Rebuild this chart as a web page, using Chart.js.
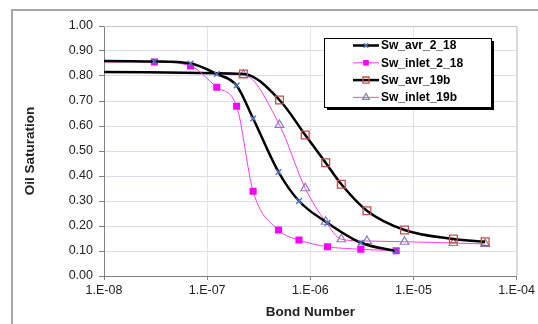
<!DOCTYPE html>
<html>
<head>
<meta charset="utf-8">
<script src="https://cdn.jsdelivr.net/npm/chart.js@4.4.0/dist/chart.umd.min.js"></script>
<style>
html, body { margin: 0; padding: 0; background: #fff; }
#wrap { width: 538px; height: 324px; position: relative; }
</style>
</head>
<body>
<div id="wrap"><canvas id="grafico" width="538" height="324"></canvas></div>
<script>
// dados (Bond Number x Oil Saturation)
const bondNumber218 = [5e-9, 3.08e-8, 6.9e-8, 1.24e-7, 1.93e-7, 2.79e-7, 4.92e-7, 7.77e-7, 1.47e-6, 3.09e-6, 6.8e-6];
const swAvr218 = [0.861, 0.858, 0.850, 0.808, 0.762, 0.630, 0.416, 0.300, 0.212, 0.133, 0.100];
const swInlet218 = [0.856, 0.856, 0.840, 0.755, 0.679, 0.339, 0.184, 0.144, 0.117, 0.107, 0.101];
const bondNumber19b = [5e-9, 2.25e-7, 5.03e-7, 8.93e-7, 1.41e-6, 2.0e-6, 3.54e-6, 8.2e-6, 2.44e-5, 4.96e-5];
const swAvr19b = [0.816, 0.808, 0.704, 0.564, 0.453, 0.367, 0.261, 0.184, 0.148, 0.137];
const swInlet19b = [0.816, 0.805, 0.604, 0.351, 0.217, 0.147, 0.140, 0.137, 0.132, 0.128];

const nomesSeries = ['Sw_avr_2_18', 'Sw_inlet_2_18', 'Sw_avr_19b', 'Sw_inlet_19b'];
const xTickValues = [1e-8, 1e-7, 1e-6, 1e-5, 1e-4];
const xTickLabels = ['1.E-08', '1.E-07', '1.E-06', '1.E-05', '1.E-04'];

function pontos(xs, ys) {
    return xs.map((x, i) => ({ x: x, y: ys[i] }));
}

const fonte = "'Liberation Sans', Arial, sans-serif";

// Moldura externa e borda da área do gráfico
const molduraPlugin = {
    id: 'moldura',
    beforeDraw(chart) {
        const ctx = chart.ctx;
        ctx.save();
        ctx.fillStyle = '#fff';
        ctx.fillRect(0, 0, chart.width, chart.height);
        ctx.strokeStyle = '#a6a6a6';
        ctx.lineWidth = 2;
        ctx.beginPath();
        ctx.moveTo(12, chart.height);
        ctx.lineTo(12, 10);
        ctx.lineTo(chart.width, 10);
        ctx.stroke();
        ctx.restore();
    },
    beforeDatasetsDraw(chart) {
        const a = chart.chartArea;
        const ctx = chart.ctx;
        ctx.save();
        ctx.strokeStyle = '#c4c4c4';
        ctx.lineWidth = 1;
        ctx.beginPath();
        ctx.moveTo(a.left, a.top + 0.5);
        ctx.lineTo(a.right + 0.5, a.top + 0.5);
        ctx.lineTo(a.right + 0.5, a.bottom);
        ctx.stroke();
        ctx.restore();
    }
};

// Legenda com sombra, no estilo do Excel
const legendaPlugin = {
    id: 'legenda',
    afterDraw(chart) {
        const ctx = chart.ctx;
        const x = 324, y = 38, w = 167, h = 69;
        ctx.save();
        ctx.fillStyle = '#000';
        ctx.fillRect(x + 3, y + 3, w, h);
        ctx.fillStyle = '#fff';
        ctx.fillRect(x, y, w, h);
        ctx.strokeStyle = '#000';
        ctx.lineWidth = 1;
        ctx.strokeRect(x + 0.5, y + 0.5, w, h);
        chart.data.datasets.forEach((ds, i) => {
            const ly = 45.5 + i * 17.3;
            ctx.strokeStyle = ds.borderColor;
            ctx.lineWidth = ds.borderWidth;
            ctx.beginPath();
            ctx.moveTo(353, ly);
            ctx.lineTo(379, ly);
            ctx.stroke();
            ctx.fillStyle = ds.pointBackgroundColor;
            ctx.strokeStyle = ds.pointBorderColor;
            ctx.lineWidth = ds.pointBorderWidth;
            if (Chart.helpers && Chart.helpers.drawPoint) {
                Chart.helpers.drawPoint(ctx, {
                    pointStyle: ds.pointStyle,
                    radius: ds.pointRadius * 0.8,
                    rotation: 0,
                    borderWidth: ds.pointBorderWidth
                }, 366, ly);
            }
            ctx.fillStyle = '#000';
            ctx.font = 'bold 12px ' + fonte;
            ctx.textAlign = 'left';
            ctx.textBaseline = 'middle';
            ctx.fillText(ds.label, 381, ly + 0.5);
        });
        ctx.restore();
    }
};

const ctx = document.getElementById('grafico').getContext('2d');
new Chart(ctx, {
    type: 'line',
    data: {
        datasets: [{
            label: nomesSeries[0],
            data: pontos(bondNumber218, swAvr218),
            borderColor: '#000',
            borderWidth: 2.5,
            pointStyle: 'crossRot',
            pointRadius: 4,
            pointBorderColor: '#4f74c4',
            pointBackgroundColor: '#4f74c4',
            pointBorderWidth: 1.5,
            cubicInterpolationMode: 'monotone'
        }, {
            label: nomesSeries[1],
            data: pontos(bondNumber218, swInlet218),
            borderColor: '#ff3cf0',
            borderWidth: 1,
            pointStyle: 'rect',
            pointRadius: 5,
            pointBorderColor: '#ff00ff',
            pointBackgroundColor: '#ff00ff',
            pointBorderWidth: 0,
            cubicInterpolationMode: 'monotone'
        }, {
            label: nomesSeries[2],
            data: pontos(bondNumber19b, swAvr19b),
            borderColor: '#000',
            borderWidth: 2.5,
            pointStyle: 'rect',
            pointRadius: 5.5,
            pointBorderColor: '#c0504d',
            pointBackgroundColor: 'rgba(0,0,0,0)',
            pointBorderWidth: 1.3,
            cubicInterpolationMode: 'monotone'
        }, {
            label: nomesSeries[3],
            data: pontos(bondNumber19b, swInlet19b),
            borderColor: '#ff3cf0',
            borderWidth: 1,
            pointStyle: 'triangle',
            pointRadius: 5,
            pointBorderColor: '#8c7bb8',
            pointBackgroundColor: 'rgba(255,255,255,0)',
            pointBorderWidth: 1.2,
            cubicInterpolationMode: 'monotone'
        }]
    },
    options: {
        responsive: false,
        animation: false,
        devicePixelRatio: 1,
        layout: { padding: { left: 12, top: 26, right: 21, bottom: 0 } },
        plugins: {
            legend: { display: false },
            tooltip: { enabled: false }
        },
        scales: {
            x: {
                type: 'logarithmic',
                min: 1e-8,
                max: 1e-4,
                afterBuildTicks: (scale) => {
                    scale.ticks = xTickValues.map(v => ({ value: v, major: true }));
                },
                afterFit: (scale) => { scale.height = 48; },
                ticks: {
                    autoSkip: false,
                    maxRotation: 0,
                    padding: 3,
                    color: '#222',
                    font: { family: fonte, size: 12.5 },
                    callback: (v) => {
                        const i = xTickValues.findIndex(t => Math.abs(Math.log10(t) - Math.log10(v)) < 1e-6);
                        return i >= 0 ? xTickLabels[i] : '';
                    }
                },
                grid: { color: '#e3e3ec', tickColor: '#808080', tickLength: 4 },
                border: { color: '#808080', width: 1 },
                title: {
                    display: true,
                    text: 'Bond Number',
                    color: '#222',
                    font: { family: fonte, size: 13.5, weight: 'bold' },
                    padding: { top: 0, bottom: 4 }
                }
            },
            y: {
                min: 0,
                max: 1,
                afterFit: (scale) => { scale.width = 92; },
                ticks: {
                    stepSize: 0.1,
                    padding: 6,
                    color: '#222',
                    font: { family: fonte, size: 12.5 },
                    callback: (v) => Number(v).toFixed(2)
                },
                grid: { color: '#dcdce6', tickColor: '#808080', tickLength: 5 },
                border: { color: '#808080', width: 1 },
                title: {
                    display: true,
                    text: 'Oil Saturation',
                    color: '#222',
                    font: { family: fonte, size: 13.5, weight: 'bold' },
                    padding: { top: 10, bottom: 0 }
                }
            }
        }
    },
    plugins: [molduraPlugin, legendaPlugin]
});
</script>
</body>
</html>
